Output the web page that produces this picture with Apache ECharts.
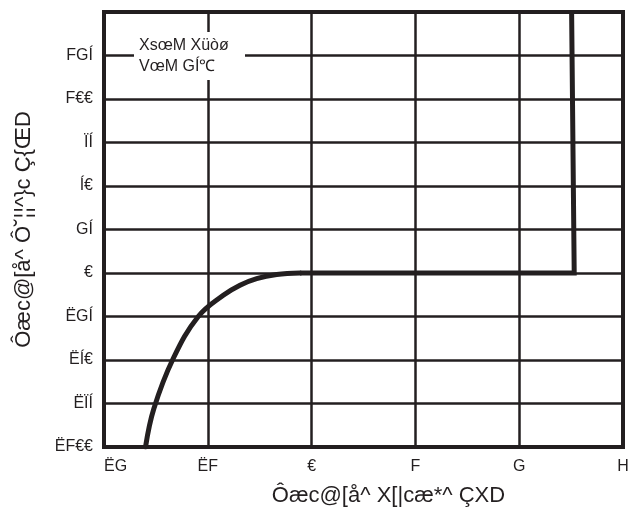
<!DOCTYPE html>
<html>
<head>
<meta charset="utf-8">
<script src="https://cdn.jsdelivr.net/npm/echarts@6/dist/echarts.min.js"></script>
<style>
html,body{margin:0;padding:0;background:#fff;}
#chart{width:634px;height:520px;}
</style>
</head>
<body>
<div id="chart"></div>
<script>
// Data
const xTickValues = [-2, -1, 0, 1, 2, 3];
const xTickLabels = ['ËG', 'ËF', '€', 'F', 'G', 'H'];
const yTickValues = [-100, -75, -50, -25, 0, 25, 50, 75, 100, 125];
const yTickLabels = ['ËF€€', 'ËÏÍ', 'ËÍ€', 'ËGÍ', '€', 'GÍ', 'Í€', 'ÏÍ', 'F€€', 'FGÍ'];
const curveX = [-1.60, -1.52, -1.332, -1.092, -0.851, -0.69, -0.529, -0.336, -0.112];
const curveY = [-100, -78, -49, -25, -12.8, -7, -3.2, -0.9, 0];
const breakX = [-0.112, 2.53, 2.505];
const breakY = [0, 0, 150];
const xName = 'Ôæc@[å^ X[|cæ*^ ÇXD';
const yName = 'Ôæc@[å^ Ô˘¦¦^}c Ç{ŒD';
const noteLines = ['XsœM Xüòø', 'VœM GÍ℃'];

const ink = '#231f20';
const font = '"Liberation Sans", Arial, sans-serif';

const chart = echarts.init(document.getElementById('chart'));
const lbl = (vals, labs) => v => {
  const i = vals.findIndex(t => Math.abs(t - v) < 1e-9);
  return i >= 0 ? labs[i] : '';
};

chart.setOption({
  animation: false,
  backgroundColor: '#fff',
  grid: { left: 104, right: 11, top: 12, bottom: 73, show: true, borderColor: ink, borderWidth: 4, backgroundColor: 'transparent' },
  xAxis: {
    type: 'value', min: -2, max: 3, interval: 1,
    axisLine: { show: false }, axisTick: { show: false },
    splitLine: { show: true, lineStyle: { color: ink, width: 2.5 } },
    axisLabel: { formatter: lbl(xTickValues, xTickLabels), color: ink, fontSize: 16, fontFamily: font, margin: 12, alignMinLabel: 'left', alignMaxLabel: 'center' },
    name: xName, nameLocation: 'middle', nameGap: 38,
    nameTextStyle: { color: ink, fontSize: 22, fontFamily: font, padding: [0, 0, 0, 50] }
  },
  yAxis: {
    type: 'value', min: -100, max: 150, interval: 25,
    axisLine: { show: false }, axisTick: { show: false },
    splitLine: { show: true, lineStyle: { color: ink, width: 2.5 } },
    axisLabel: { formatter: lbl(yTickValues, yTickLabels), color: ink, fontSize: 16, fontFamily: font, margin: 11, showMaxLabel: false },
    name: yName, nameLocation: 'middle', nameGap: 69,
    nameTextStyle: { color: ink, fontSize: 22, fontFamily: font }
  },
  series: [
    {
      type: 'line', data: curveX.map((x, i) => [x, curveY[i]]),
      smooth: 0.4, symbol: 'none',
      lineStyle: { color: ink, width: 5, cap: 'round', join: 'round' }
    },
    {
      type: 'line', data: breakX.map((x, i) => [x, breakY[i]]),
      symbol: 'none',
      lineStyle: { color: ink, width: 5, join: 'miter' }
    }
  ],
  graphic: [
    { type: 'rect', shape: { x: 134, y: 32, width: 111, height: 48 }, style: { fill: '#fff' }, z: 100 },
    { type: 'text', x: 139, y: 35, z: 101,
      style: { text: noteLines.join('\n'), fill: ink, fontSize: 16, fontFamily: font, lineHeight: 21 } }
  ]
});
</script>
</body>
</html>
